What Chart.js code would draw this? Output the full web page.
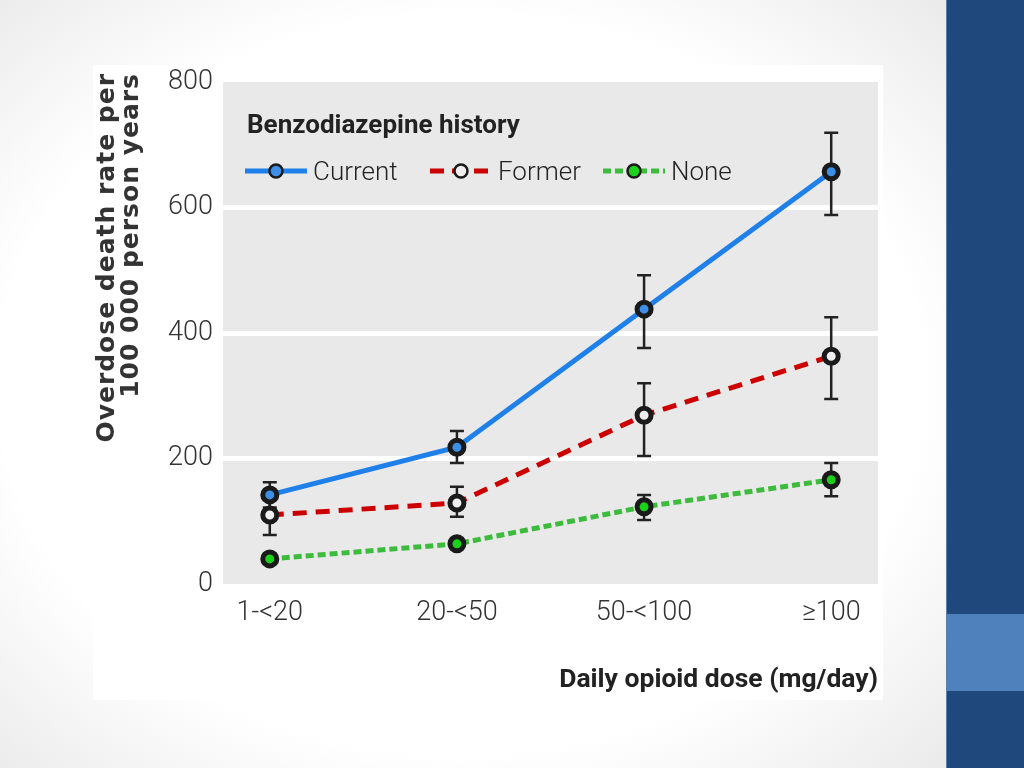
<!DOCTYPE html>
<html lang="en">
<head>
<meta charset="UTF-8">
<title>Overdose death rate by opioid dose</title>
<script src="https://cdn.jsdelivr.net/npm/chart.js"></script>
<style>
  html, body { margin: 0; padding: 0; }
  body {
    width: 1024px; height: 768px; overflow: hidden; position: relative;
    background: radial-gradient(ellipse 75% 80% at 45% 50%, #ffffff 60%, #e2e2e2 100%);
  }
  #sidebar { position: absolute; left: 946px; top: 0; width: 78px; height: 768px; background: #1f497d; border-left: 1px solid #5b7fad; }
  #sidebar-block { position: absolute; left: 947px; top: 614px; width: 77px; height: 77px; background: #4f81bd; }
  #panel { position: absolute; left: 93px; top: 65px; width: 790px; height: 635px; background: #fff; }
  #ytitle {
    position: absolute; left: 94px; top: 443px; width: 370px;
    transform: rotate(-90deg); transform-origin: top left;
    font-family: "DejaVu Sans", sans-serif; font-weight: bold; font-size: 25px; line-height: 24px;
    letter-spacing: 1px; color: #333; text-align: right; white-space: nowrap;
  }
  .cond { font-family: Roboto, "Open Sans", sans-serif; color: #222; }
  #legend-title { position: absolute; left: 247px; top: 109px; font-size: 26px; font-weight: bold; }
  .item { position: absolute; top: 154px; height: 34px; display: flex; align-items: center; font-size: 26px; font-weight: 300; }
  .item svg { margin-right: 6px; }
</style>
</head>
<body>
<div id="panel"><canvas id="chart" width="790" height="635"></canvas></div>
<div id="ytitle">Overdose death rate per<br>100 000 person years</div>
<div id="legend-title" class="cond">Benzodiazepine history</div>
<div class="item cond" style="left:245px">
  <svg width="62" height="20"><line x1="0" y1="10" x2="62" y2="10" stroke="#1e80e8" stroke-width="5"/><circle cx="31" cy="10" r="6.5" fill="#3d8fe6" stroke="#1a1a1a" stroke-width="2.5"/></svg>Current</div>
<div class="item cond" style="left:430px">
  <svg width="62" height="20"><line x1="0" y1="10" x2="62" y2="10" stroke="#cc0000" stroke-width="5" stroke-dasharray="14 8"/><circle cx="31" cy="10" r="6.5" fill="#efefef" stroke="#1a1a1a" stroke-width="2.5"/></svg>Former</div>
<div class="item cond" style="left:603px">
  <svg width="62" height="20"><line x1="0" y1="10" x2="62" y2="10" stroke="#3dbb3d" stroke-width="5" stroke-dasharray="8 4"/><circle cx="31" cy="10" r="6.5" fill="#19d219" stroke="#1a1a1a" stroke-width="2.5"/></svg>None</div>
<div id="sidebar"></div>
<div id="sidebar-block"></div>

<script>
const categories = ['1-<20', '20-<50', '50-<100', '\u2265100'];

const currentRate = [142, 218, 438, 657];
const currentLow  = [122, 193, 376, 588];
const currentHigh = [162, 244, 492, 719];

const formerRate = [110, 129, 269, 363];
const formerLow  = [78, 107, 204, 295];
const formerHigh = [145, 155, 320, 425];

const noneRate = [40, 64, 123, 166];
const noneLow  = [33, 56, 102, 140];
const noneHigh = [48, 72, 142, 193];

const yTicks = [0, 200, 400, 600, 800];

const tickFont = { family: "Roboto, 'Open Sans', sans-serif", size: 27, weight: 300 };

function pts(values) {
  return values.map((v, i) => ({ x: i, y: v }));
}

// keep the plot box where it is in the figure, ignore label overflow
function noOverflow(s) {
  s.paddingTop = 0; s.paddingBottom = 0; s.paddingLeft = 0; s.paddingRight = 0;
}

// grey panel behind the plot
const plotBg = {
  id: 'plotBg',
  beforeDraw(chart) {
    const a = chart.chartArea, ctx = chart.ctx;
    ctx.save();
    ctx.fillStyle = '#e9e9e9';
    ctx.fillRect(a.left, a.top, a.right - a.left, a.bottom - a.top);
    ctx.restore();
  }
};

// confidence interval whiskers
const errorBars = {
  id: 'errorBars',
  beforeDatasetsDraw(chart) {
    const ctx = chart.ctx, xs = chart.scales.x, ys = chart.scales.y;
    ctx.save();
    ctx.strokeStyle = '#222';
    ctx.lineWidth = 2.5;
    chart.data.datasets.forEach(ds => {
      ds.low.forEach((lo, i) => {
        const x = xs.getPixelForValue(i);
        const y1 = ys.getPixelForValue(lo);
        const y2 = ys.getPixelForValue(ds.high[i]);
        ctx.beginPath();
        ctx.moveTo(x, y1); ctx.lineTo(x, y2);
        ctx.moveTo(x - 7, y1); ctx.lineTo(x + 7, y1);
        ctx.moveTo(x - 7, y2); ctx.lineTo(x + 7, y2);
        ctx.stroke();
      });
    });
    ctx.restore();
  }
};

new Chart(document.getElementById('chart'), {
  type: 'line',
  data: {
    datasets: [
      { label: 'Current', data: pts(currentRate), low: currentLow, high: currentHigh,
        borderColor: '#1e80e8', backgroundColor: '#3d8fe6', borderWidth: 5 },
      { label: 'Former', data: pts(formerRate), low: formerLow, high: formerHigh,
        borderColor: '#cc0000', backgroundColor: '#efefef', borderWidth: 5, borderDash: [14, 9] },
      { label: 'None', data: pts(noneRate), low: noneLow, high: noneHigh,
        borderColor: '#3dbb3d', backgroundColor: '#19d219', borderWidth: 5, borderDash: [8, 4] }
    ]
  },
  options: {
    responsive: false,
    animation: false,
    layout: { autoPadding: false, padding: { left: 0, right: 5, top: 17, bottom: 0 } },
    elements: {
      line: { tension: 0 },
      point: { radius: 7, borderWidth: 2.5, borderColor: '#1a1a1a', hoverRadius: 7 }
    },
    datasets: { line: { pointBorderColor: '#1a1a1a' } },
    plugins: { legend: { display: false }, tooltip: { enabled: false } },
    scales: {
      x: {
        type: 'linear', min: -0.25, max: 3.25,
        afterBuildTicks: s => { s.ticks = categories.map((c, i) => ({ value: i })); },
        afterFit: s => { s.height = 116; noOverflow(s); },
        ticks: { callback: v => categories[v], color: '#333', padding: 5, font: tickFont },
        grid: { display: false },
        border: { display: false },
        title: { display: true, text: 'Daily opioid dose (mg/day)', align: 'end', color: '#222',
                 font: { family: "Roboto, 'Open Sans', sans-serif", size: 26.5, weight: 'bold' },
                 padding: { top: 0, bottom: 4 } }
      },
      y: {
        min: 0, max: 800,
        afterBuildTicks: s => { s.ticks = yTicks.map(v => ({ value: v })); },
        afterFit: s => { s.width = 130; noOverflow(s); },
        ticks: { color: '#333', padding: 10, font: tickFont },
        grid: {
          drawTicks: false, lineWidth: 5,
          color: c => (c.tick && c.tick.value > 0 && c.tick.value < 800) ? '#ffffff' : 'rgba(0,0,0,0)'
        },
        border: { display: false }
      }
    }
  },
  plugins: [plotBg, errorBars]
});
</script>
</body>
</html>
